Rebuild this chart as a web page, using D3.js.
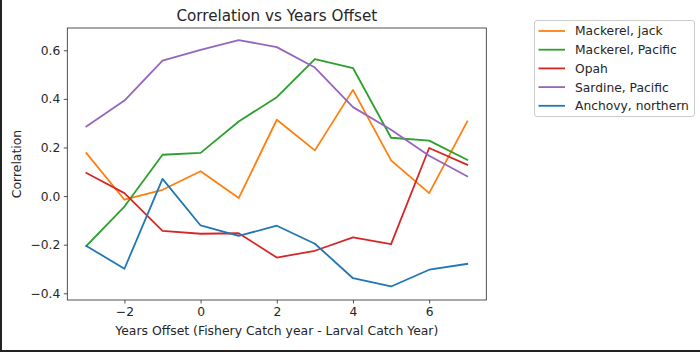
<!DOCTYPE html>
<html>
<head>
<meta charset="utf-8">
<script src="https://cdn.jsdelivr.net/npm/d3@7/dist/d3.min.js"></script>
<style>
html,body{margin:0;padding:0;background:#fff;}
svg{display:block;}
text{font-family:"DejaVu Sans",sans-serif;fill:#262626;}
</style>
</head>
<body>
<script>
const offsets = [-3,-2,-1,0,1,2,3,4,5,6,7];
const seriesNames = ["Mackerel, jack","Mackerel, Pacific","Opah","Sardine, Pacific","Anchovy, northern"];
const mackerelJack    = [0.177,-0.015,0.026,0.102,-0.008,0.314,0.188,0.437,0.147,0.012,0.307];
const mackerelPacific = [-0.205,-0.043,0.170,0.178,0.307,0.407,0.564,0.527,0.240,0.228,0.149];
const opah            = [0.095,0.012,-0.143,-0.155,-0.153,-0.253,-0.225,-0.170,-0.198,0.198,0.129];
const sardinePacific  = [0.286,0.393,0.557,0.602,0.642,0.613,0.529,0.366,0.273,0.166,0.081];
const anchovyNorthern = [-0.205,-0.299,0.071,-0.121,-0.164,-0.122,-0.196,-0.338,-0.372,-0.303,-0.279];
const seriesValues = [mackerelJack,mackerelPacific,opah,sardinePacific,anchovyNorthern];
const colors = ["#ff7f0e","#2ca02c","#d62728","#9467bd","#1f77b4"];
const xTicks = [-2,0,2,4,6];
const yTicks = [-0.4,-0.2,0.0,0.2,0.4,0.6];
const titleText = "Correlation vs Years Offset";
const xLabel = "Years Offset (Fishery Catch year - Larval Catch Year)";
const yLabel = "Correlation";

const W=700,H=352;
const L=67.3,R=486.3,T=28,B=300;
const svg=d3.select("body").append("svg").attr("width",W).attr("height",H);
svg.append("rect").attr("width",W).attr("height",H).attr("fill","#fff");

const x=d3.scaleLinear().domain([-3.5,7.5]).range([L,R]);
const y=d3.scaleLinear().domain([-0.4276,0.6916]).range([B,T]);

const fmtY=d=>d3.format(".1f")(d).replace("-","\u2212");
const fmtX=d=>String(d).replace("-","\u2212");

const gx=svg.append("g").attr("transform",`translate(0,${B})`)
  .call(d3.axisBottom(x).tickValues(xTicks).tickFormat(fmtX).tickSizeOuter(0).tickSize(3.5).tickPadding(3.5));
const gy=svg.append("g").attr("transform",`translate(${L},0)`)
  .call(d3.axisLeft(y).tickValues(yTicks).tickFormat(fmtY).tickSizeOuter(0).tickSize(3.5).tickPadding(3.5));
[gx,gy].forEach(g=>{
  g.select(".domain").remove();
  g.selectAll(".tick line").attr("stroke","#262626").attr("stroke-width",0.8);
  g.selectAll(".tick text").attr("font-size","12.3px").attr("font-family","DejaVu Sans").attr("fill","#262626");
});

const line=d3.line().x((d,i)=>x(offsets[i])).y(d=>y(d));
seriesValues.forEach((vals,k)=>{
  svg.append("path").datum(vals).attr("d",line).attr("fill","none")
    .attr("stroke",colors[k]).attr("stroke-width",1.8).attr("stroke-linejoin","round").attr("stroke-linecap","square");
});

svg.append("rect").attr("x",L).attr("y",T).attr("width",R-L).attr("height",B-T)
  .attr("fill","none").attr("stroke","#262626").attr("stroke-width",0.8);

svg.append("text").attr("x",(L+R)/2).attr("y",21).attr("text-anchor","middle")
  .attr("font-size","15.2px").text(titleText);
svg.append("text").attr("x",(L+R)/2).attr("y",335).attr("text-anchor","middle")
  .attr("font-size","12.4px").text(xLabel);
svg.append("text").attr("transform",`translate(21,${(T+B)/2}) rotate(-90)`).attr("text-anchor","middle")
  .attr("font-size","12.4px").text(yLabel);

// legend
const lg=svg.append("g");
lg.append("rect").attr("x",534.5).attr("y",20.5).attr("width",160).attr("height",96).attr("rx",2.5)
  .attr("fill","#fff").attr("fill-opacity",0.8).attr("stroke","#cccccc").attr("stroke-width",1);
seriesNames.forEach((n,k)=>{
  const cy=31+k*18.7;
  lg.append("line").attr("x1",538.5).attr("x2",565).attr("y1",cy).attr("y2",cy)
    .attr("stroke",colors[k]).attr("stroke-width",1.8);
  lg.append("text").attr("x",575).attr("y",cy+4.4).attr("font-size","12.3px").text(n);
});

// screenshot frame edges
svg.append("rect").attr("x",0).attr("y",0).attr("width",2).attr("height",H).attr("fill","#222");
svg.append("rect").attr("x",0).attr("y",H-2).attr("width",W).attr("height",2).attr("fill","#222");
</script>
</body>
</html>
